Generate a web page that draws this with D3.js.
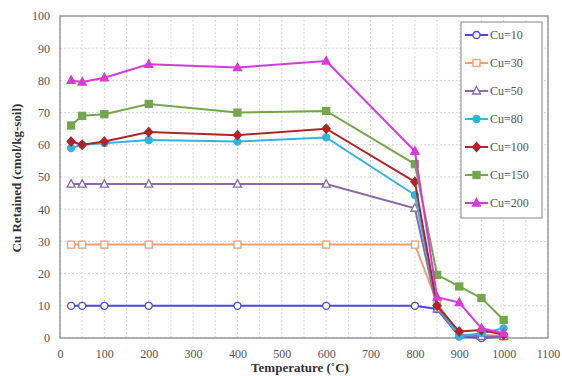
<!DOCTYPE html>
<html><head><meta charset="utf-8">
<script src="https://cdn.jsdelivr.net/npm/d3@7"></script>
<style>body{margin:0;background:#fff}svg{display:block}svg text{font-family:"Liberation Serif","Times New Roman",serif}</style>
</head><body>
<svg id="c" width="562" height="376"></svg>
<script>
const temps = [25, 50, 100, 200, 400, 600, 800, 850, 900, 950, 1000];
const seriesNames = ["Cu=10", "Cu=30", "Cu=50", "Cu=80", "Cu=100", "Cu=150", "Cu=200"];
const cu10  = [10, 10, 10, 10, 10, 10, 10, 9, 0.5, 0, 0.5];
const cu30  = [29, 29, 29, 29, 29, 29, 29, 11, 1, 1, 0.5];
const cu50  = [47.8, 47.8, 47.8, 47.8, 47.8, 47.8, 40.3, 9, 1, 0.5, 0.5];
const cu80  = [59, 60, 60.5, 61.5, 61, 62.3, 44.4, 10, 0.5, 1.5, 3];
const cu100 = [61, 60, 61, 64, 63, 65, 48.5, 10, 2, 2.5, 1];
const cu150 = [66, 69, 69.5, 72.7, 70, 70.5, 54, 19.6, 16, 12.4, 5.6];
const cu200 = [80, 79.5, 80.8, 85, 84, 86, 58, 12.7, 11, 3, 1.5];
const xTicks = [0,100,200,300,400,500,600,700,800,900,1000,1100];
const yTicks = [0,10,20,30,40,50,60,70,80,90,100];

const colors = ["#4a4ad8", "#f0a070", "#8a6aa8", "#30b4e0", "#b02428", "#72a848", "#d83ad8"];
const markers = ["circle", "square", "triangle", "circle", "diamond", "square", "triangle"];
const filled = [false, false, false, true, true, true, true];
const values = [cu10, cu30, cu50, cu80, cu100, cu150, cu200];

const svg = d3.select("#c");
const L = 60, R = 548, T = 16, B = 338;
const x = d3.scaleLinear().domain([0, 1100]).range([L, R]);
const y = d3.scaleLinear().domain([0, 100]).range([B, T]);

// grid
const gx = d3.range(0, 1101, 50);
svg.append("g").selectAll("line").data(gx).join("line")
  .attr("x1", d => x(d)).attr("x2", d => x(d)).attr("y1", T).attr("y2", B)
  .attr("stroke", "#d8d8d8").attr("stroke-width", 1).attr("stroke-dasharray", "2,2");
svg.append("g").selectAll("line").data(yTicks).join("line")
  .attr("x1", L).attr("x2", R).attr("y1", d => y(d)).attr("y2", d => y(d))
  .attr("stroke", "#d8d8d8").attr("stroke-width", 1).attr("stroke-dasharray", "2,2");

// axes
const fmt = d3.format("d");
const xa = svg.append("g").attr("transform", `translate(0,${B})`)
  .call(d3.axisBottom(x).tickValues(xTicks).tickFormat(fmt).tickSize(0).tickPadding(11));
const ya = svg.append("g").attr("transform", `translate(${L},0)`)
  .call(d3.axisLeft(y).tickValues(yTicks).tickFormat(fmt).tickSize(0).tickPadding(10));
[xa, ya].forEach(a => {
  a.attr("font-family", null);
  a.select(".domain").remove();
  a.selectAll("text").style("font-size", "12px").attr("fill", "#555");
});

// frame
svg.append("rect").attr("x", L).attr("y", T).attr("width", R - L).attr("height", B - T)
  .attr("fill", "none").attr("stroke", "#9a9a9a").attr("stroke-width", 1.5);

// axis titles
svg.append("text").attr("x", 300).attr("y", 372).attr("text-anchor", "middle")
  .style("font-size", "13px").attr("font-weight", "bold").attr("fill", "#333")
  .text("Temperature (˚C)");
svg.append("text").attr("transform", "translate(21,178) rotate(-90)").attr("text-anchor", "middle")
  .style("font-size", "13px").attr("font-weight", "bold").attr("fill", "#333")
  .text("Cu Retained (cmol/kg-soil)");

function drawMarker(g, type, cx, cy, col, fill) {
  const f = fill ? col : "#fff";
  let m;
  if (type === "circle") m = g.append("circle").attr("cx", cx).attr("cy", cy).attr("r", 3.5);
  else if (type === "square") m = g.append("rect").attr("x", cx - 3.5).attr("y", cy - 3.5).attr("width", 7).attr("height", 7);
  else if (type === "triangle") m = g.append("path").attr("d", `M${cx},${cy-4.5}L${cx+4},${cy+3}L${cx-4},${cy+3}Z`);
  else m = g.append("path").attr("d", `M${cx},${cy-4.5}L${cx+4},${cy}L${cx},${cy+4.5}L${cx-4},${cy}Z`);
  m.attr("fill", f).attr("stroke", col).attr("stroke-width", 1.3);
}

const line = d3.line().x((d, i) => x(temps[i])).y(d => y(d));
values.forEach((vals, s) => {
  const g = svg.append("g");
  g.append("path").datum(vals).attr("d", line).attr("fill", "none")
    .attr("stroke", colors[s]).attr("stroke-width", 2);
  vals.forEach((v, i) => drawMarker(g, markers[s], x(temps[i]), y(v), colors[s], filled[s]));
});

// legend
const lg = svg.append("g");
lg.append("rect").attr("x", 461).attr("y", 22).attr("width", 81).attr("height", 196)
  .attr("fill", "#fff").attr("stroke", "#9a9a9a").attr("stroke-width", 1.2);
seriesNames.forEach((n, s) => {
  const yy = 35 + s * 28;
  lg.append("line").attr("x1", 465).attr("x2", 488).attr("y1", yy).attr("y2", yy)
    .attr("stroke", colors[s]).attr("stroke-width", 2);
  drawMarker(lg, markers[s], 476.5, yy, colors[s], filled[s]);
  lg.append("text").attr("x", 490).attr("y", yy + 4)
    .style("font-size", "12px").attr("fill", "#555").text(n);
});
</script>
</body></html>
